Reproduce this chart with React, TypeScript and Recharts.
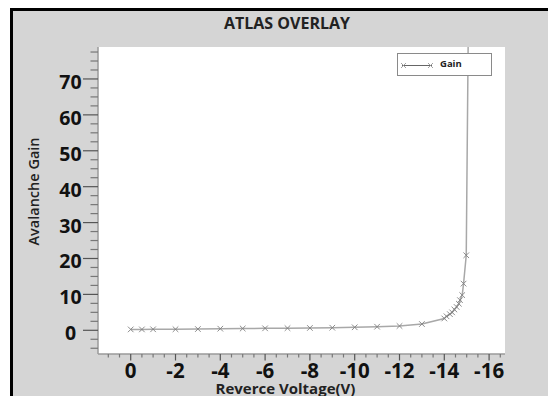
import React from 'react';
import { LineChart, Line, XAxis, YAxis, CartesianGrid, Legend } from 'recharts';

// ---- data ----
const voltage = [0, -0.5, -1, -2, -3, -4, -5, -6, -7, -8, -9, -10, -11, -12, -13, -14, -14.1, -14.25, -14.35, -14.45, -14.55, -14.65, -14.7, -14.8, -14.86, -14.98, -15.1];
const gain = [0.25, 0.25, 0.28, 0.3, 0.35, 0.45, 0.5, 0.55, 0.6, 0.65, 0.72, 0.84, 1.0, 1.2, 1.75, 3.3, 3.9, 4.5, 5.0, 5.8, 6.5, 7.4, 8.4, 9.8, 13.0, 20.9, 104];

const xMajorTicks = [0, -2, -4, -6, -8, -10, -12, -14, -16];
const xAllTicks = [1, 0.5, 0, -0.5, -1, -1.5, -2, -2.5, -3, -3.5, -4, -4.5, -5, -5.5, -6, -6.5, -7, -7.5, -8, -8.5, -9, -9.5, -10, -10.5, -11, -11.5, -12, -12.5, -13, -13.5, -14, -14.5, -15, -15.5, -16, -16.5];
const yMajorTicks = [0, 10, 20, 30, 40, 50, 60, 70];
const yAllTicks = [-5, -2.5, 0, 2.5, 5, 7.5, 10, 12.5, 15, 17.5, 20, 22.5, 25, 27.5, 30, 32.5, 35, 37.5, 40, 42.5, 45, 47.5, 50, 52.5, 55, 57.5, 60, 62.5, 65, 67.5, 70, 72.5, 75, 77.5];

const xDomain = [-16.71, 1.46];
const yDomain = [-6.6, 78.9];

const title = 'ATLAS OVERLAY';
const xTitle = 'Reverce Voltage(V)';
const yTitle = 'Avalanche Gain';
const seriesName = 'Gain';

const data = voltage.map((v, i) => ({ v, g: gain[i] }));

const FONT = '"Open Sans", "DejaVu Sans", sans-serif';
const BG = '#d5d5d5';
const LINE_COLOR = '#a8a8a8';
const MARK_COLOR = '#808080';
const FRAME = { stroke: '#9a9a9a', strokeWidth: 1.5 };

const XTick = (props: any) => {
  const { x, y, payload } = props;
  const major = xMajorTicks.includes(payload.value);
  return (
    <g>
      <line x1={x} x2={x} y1={y} y2={y + (major ? 6.5 : 3.5)} stroke={major ? '#555' : '#777'} strokeWidth={1.2} />
      {major && (
        <text x={x} y={y + 24} textAnchor="middle" fontFamily={FONT} fontWeight={700} fontSize={20.5} fill="#111">
          {payload.value}
        </text>
      )}
    </g>
  );
};

const YTick = (props: any) => {
  const { x, y, payload } = props;
  const major = yMajorTicks.includes(payload.value);
  return (
    <g>
      <line x1={x - (major ? 15 : 7.5)} x2={x} y1={y} y2={y} stroke={major ? '#555' : '#777'} strokeWidth={1.2} />
      {major && (
        <text x={x - 27.5} y={y + 10} textAnchor="middle" fontFamily={FONT} fontWeight={700} fontSize={19.5} fill="#111">
          {payload.value}
        </text>
      )}
    </g>
  );
};

const XMark = (props: any) => {
  const { cx, cy, index } = props;
  if (cx == null || cy == null) return <g key={`m${index}`} />;
  const s = 2.8;
  return (
    <path
      key={`m${index}`}
      d={`M${cx - s},${cy - s}L${cx + s},${cy + s}M${cx - s},${cy + s}L${cx + s},${cy - s}`}
      stroke={MARK_COLOR}
      strokeWidth={0.9}
      fill="none"
    />
  );
};

const LegendBox = () => (
  <div
    style={{
      width: 95,
      height: 23,
      boxSizing: 'border-box',
      background: '#fff',
      border: '1.5px solid #8a8a8a',
      position: 'relative',
    }}
  >
    <svg width={40} height={20} style={{ position: 'absolute', left: 1, top: 1 }}>
      <line x1={3} x2={33} y1={10.5} y2={10.5} stroke="#666" strokeWidth={1} />
      <path d="M2,8L7,13M2,13L7,8" stroke="#999" strokeWidth={0.9} />
      <path d="M29,8L34,13M29,13L34,8" stroke="#999" strokeWidth={0.9} />
    </svg>
    <span
      style={{
        position: 'absolute',
        left: 42,
        top: 3.5,
        fontFamily: FONT,
        fontWeight: 700,
        fontSize: 9.5,
        color: '#222',
        lineHeight: '12px',
      }}
    >
      {seriesName}
    </span>
  </div>
);

const YTitle = (props: any) => {
  const vb = props.viewBox || {};
  const cx = 33;
  const cy = vb.y + vb.height / 2 - 9;
  return (
    <text
      x={cx}
      y={cy}
      transform={`rotate(-90 ${cx} ${cy})`}
      textAnchor="middle"
      dominantBaseline="central"
      fontFamily={FONT}
      fontWeight={600}
      fontSize={14.5}
      fill="#222"
    >
      {yTitle}
    </text>
  );
};

const XTitle = (props: any) => {
  const vb = props.viewBox || {};
  const cx = vb.x + vb.width / 2 - 16;
  return (
    <text x={cx} y={394} textAnchor="middle" fontFamily={FONT} fontWeight={700} fontSize={15} fill="#222">
      {xTitle}
    </text>
  );
};

export default function App() {
  return (
    <div style={{ position: 'absolute', left: 0, top: 0, width: 548, height: 396, overflow: 'hidden', background: BG }}>
      <div style={{ position: 'absolute', left: 0, top: 0 }}>
        <LineChart
          width={548}
          height={396}
          data={data}
          margin={{ top: 47, right: 43, bottom: 0, left: 0 }}
          style={{ background: BG }}
        >
          <CartesianGrid horizontal={false} vertical={false} fill="#fff" fillOpacity={1} />
          <XAxis
            dataKey="v"
            type="number"
            domain={xDomain}
            allowDataOverflow
            reversed
            ticks={xAllTicks}
            interval={0}
            tick={<XTick />}
            tickLine={false}
            axisLine={FRAME}
            tickSize={0}
            tickMargin={0}
            height={42}
            label={<XTitle />}
          />
          <XAxis
            xAxisId="top"
            orientation="top"
            dataKey="v"
            type="number"
            domain={xDomain}
            allowDataOverflow
            reversed
            tick={false}
            tickLine={false}
            axisLine={FRAME}
            height={0}
          />
          <YAxis
            type="number"
            domain={yDomain}
            allowDataOverflow
            ticks={yAllTicks}
            interval={0}
            tick={<YTick />}
            tickLine={false}
            axisLine={FRAME}
            tickSize={0}
            tickMargin={0}
            width={98}
            label={<YTitle />}
          />
          <YAxis
            yAxisId="right"
            orientation="right"
            type="number"
            domain={yDomain}
            allowDataOverflow
            tick={false}
            tickLine={false}
            axisLine={FRAME}
            width={0}
          />
          <Legend
            layout="horizontal"
            verticalAlign="middle"
            align="center"
            content={<LegendBox />}
            wrapperStyle={{ left: 397, top: 53, width: 95, height: 23 }}
          />
          <Line
            dataKey="g"
            name={seriesName}
            type="linear"
            stroke={LINE_COLOR}
            strokeWidth={1.5}
            dot={XMark}
            activeDot={false}
            isAnimationActive={false}
          />
        </LineChart>
      </div>
      {/* page margin outside the frame and the black frame edges */}
      <div style={{ position: 'absolute', left: 0, top: 0, width: 10, height: 396, background: '#fff' }} />
      <div style={{ position: 'absolute', left: 0, top: 0, width: 548, height: 8, background: '#fff' }} />
      <div style={{ position: 'absolute', left: 10, top: 8, width: 3, height: 388, background: '#000' }} />
      <div style={{ position: 'absolute', left: 10, top: 8, width: 538, height: 3, background: '#000' }} />
      <div
        style={{
          position: 'absolute',
          left: 0,
          top: 13,
          width: 574,
          textAlign: 'center',
          fontFamily: FONT,
          fontWeight: 700,
          fontSize: 16,
          color: '#222',
          lineHeight: '20px',
        }}
      >
        {title}
      </div>
    </div>
  );
}
